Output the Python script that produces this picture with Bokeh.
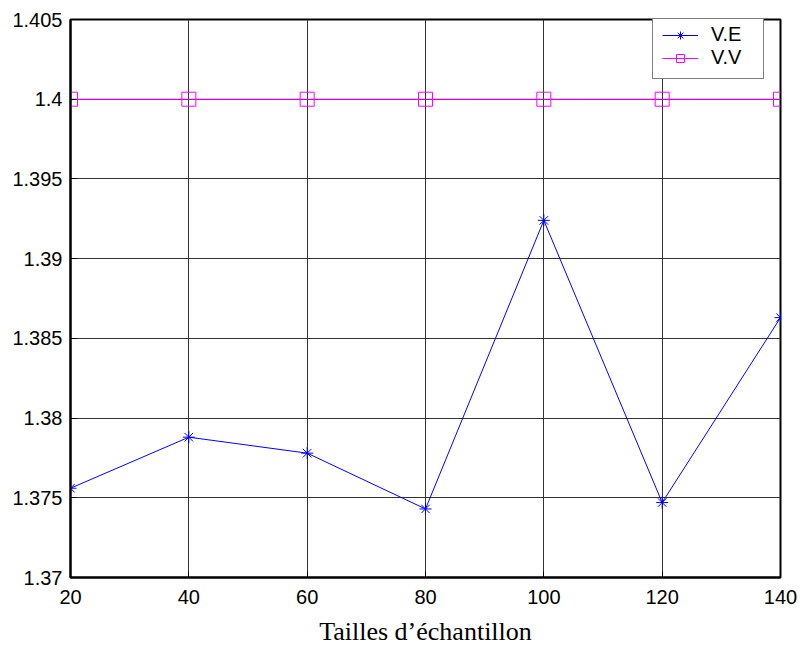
from bokeh.plotting import figure
from bokeh.models import FixedTicker, Legend, LegendItem, Range1d
from bokeh.embed import file_html
from bokeh.resources import INLINE

sizes = [20, 40, 60, 80, 100, 120, 140]
ve = [1.3756, 1.3788, 1.3778, 1.3743, 1.3924, 1.3747, 1.3863]
vv = [1.4, 1.4, 1.4, 1.4, 1.4, 1.4, 1.4]
y_ticks = [1.37, 1.375, 1.38, 1.385, 1.39, 1.395, 1.4, 1.405]
y_tick_labels = ["1.37", "1.375", "1.38", "1.385", "1.39", "1.395", "1.4", "1.405"]
x_ticks = [20, 40, 60, 80, 100, 120, 140]
x_label = "Tailles d\u2019échantillon"

p = figure(frame_width=710, frame_height=558, output_backend="svg", toolbar_location=None,
           x_range=Range1d(20, 140), y_range=Range1d(1.37, 1.405),
           min_border_left=70, min_border_top=19, min_border_right=17, min_border_bottom=66)
p.background_fill_color = "white"
p.border_fill_color = "white"
p.outline_line_color = "black"
p.outline_line_width = 2

for ax in (p.xaxis[0], p.yaxis[0]):
    ax.axis_line_width = 2
    ax.axis_line_color = "black"
    ax.major_tick_in = 6
    ax.major_tick_out = 0
    ax.minor_tick_line_color = None
    ax.major_label_text_font = "Liberation Sans"
    ax.major_label_text_font_size = "20px"
    ax.major_label_text_color = "black"

p.xaxis.major_label_standoff = 12
p.yaxis.major_label_standoff = 8
p.xaxis.ticker = FixedTicker(ticks=x_ticks)
p.yaxis.ticker = FixedTicker(ticks=y_ticks)
p.yaxis.major_label_overrides = {t: l for t, l in zip(y_ticks, y_tick_labels)}
p.xaxis.axis_label = x_label
p.xaxis.axis_label_text_font = "Liberation Serif"
p.xaxis.axis_label_text_font_style = "normal"
p.xaxis.axis_label_text_font_size = "26px"
p.xaxis.axis_label_text_color = "black"
p.xaxis.axis_label_standoff = 10

p.grid.grid_line_color = "#333333"
p.grid.grid_line_width = 1

l1 = p.line(sizes, ve, line_color="blue", line_width=1)
m1 = p.scatter(sizes, ve, marker="asterisk", size=12, line_color="blue", line_width=1)
l2 = p.line(sizes, vv, line_color="magenta", line_width=1)
m2 = p.scatter(sizes, vv, marker="square", size=14, line_color="magenta", fill_color=None, line_width=1)

legend = Legend(items=[LegendItem(label="V.E", renderers=[l1, m1]),
                       LegendItem(label="V.V", renderers=[l2, m2])],
                location=(582, 498))
legend.border_line_color = "black"
legend.border_line_width = 1
legend.background_fill_color = "white"
legend.background_fill_alpha = 1
legend.label_text_font = "Liberation Sans"
legend.label_text_font_size = "20px"
legend.label_text_color = "black"
legend.glyph_width = 36
legend.glyph_height = 20
legend.label_height = 20
legend.label_width = 43
legend.spacing = 0
legend.padding = 9
legend.margin = 0
legend.label_standoff = 13
p.add_layout(legend)

open("out.html", "w").write(file_html(p, INLINE))
